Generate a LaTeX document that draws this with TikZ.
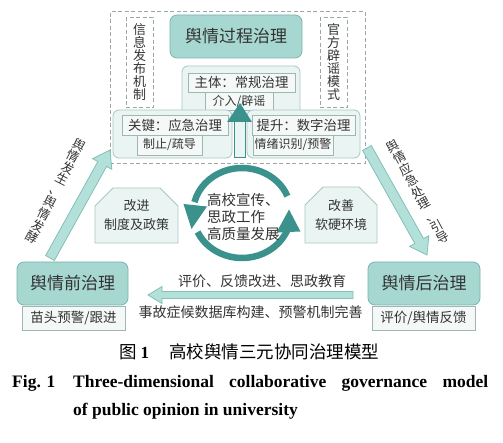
\documentclass[tikz,border=0pt]{standalone}
\usepackage{fontspec}
\setmainfont{Liberation Serif}
\newfontfamily\cjk{Noto Sans CJK SC}
\usetikzlibrary{shapes.misc}
\definecolor{tealF}{HTML}{A6D8D1}
\definecolor{tealD}{HTML}{7AB5AD}
\definecolor{grpF}{HTML}{EAF5F3}
\definecolor{grpD}{HTML}{A9C6C2}
\definecolor{hdrF}{HTML}{F4F9F8}
\definecolor{hdrD}{HTML}{9FB6B3}
\definecolor{darkT}{HTML}{3B928C}
\definecolor{arrF}{HTML}{B4E0DA}
\definecolor{arrD}{HTML}{82C0B8}
\definecolor{dashC}{HTML}{9AA8A7}
\definecolor{txt}{HTML}{333333}
\begin{document}
\begin{tikzpicture}[x=1pt,y=-1pt,
  every node/.style={text=txt},
  tealbox/.style={draw=tealD, fill=tealF, rounded corners=7pt, line width=0.8pt, inner sep=0pt,
    font=\cjk\fontsize{17}{19}\selectfont},
  groupbox/.style={draw=grpD, fill=grpF, rounded corners=6pt, line width=0.8pt, inner sep=0pt},
  hdrbox/.style={draw=hdrD, fill=hdrF, line width=0.7pt, inner sep=0pt,
    font=\cjk\fontsize{13.4}{15}\selectfont},
  subbox/.style={draw=hdrD, fill=hdrF, line width=0.7pt, inner sep=0pt,
    font=\cjk\fontsize{12}{14}\selectfont},
  lowbox/.style={draw=hdrD, fill=hdrF, line width=0.7pt, inner sep=0pt,
    font=\cjk\fontsize{13.5}{15}\selectfont},
  chambox/.style={chamfered rectangle, chamfered rectangle xsep=9pt, chamfered rectangle ysep=9pt,
    chamfered rectangle corners={north west,north east}, draw=grpD, fill=grpF, line width=0.8pt,
    inner sep=0pt, align=center, font=\cjk\fontsize{13}{19}\selectfont},
  vtxt/.style={align=center, inner sep=0pt, font=\cjk\fontsize{12.5}{13}\selectfont},
  dashbox/.style={draw=dashC, dashed, line width=1pt, dash pattern=on 4pt off 2.5pt},
  blockarr/.style={draw=arrD, fill=arrF, line width=0.8pt, line join=miter},
  midtxt/.style={inner sep=0pt, font=\cjk\fontsize{14}{14}\selectfont},
  ring/.style={draw=darkT, line width=6.5pt}
]
\useasboundingbox[fill=white] (0,0) rectangle (503,443);

% outer dashed frame
\node[dashbox, minimum width=255, minimum height=152, inner sep=0pt] (frame) at (237.5,88) {};
\node[dashbox, minimum width=27, minimum height=90, inner sep=0pt] (infobox) at (139.5,63) {};
\node[dashbox, minimum width=27, minimum height=90, inner sep=0pt] (rumorbox) at (333.5,63) {};
\node[vtxt, font=\cjk\fontsize{13}{13}\selectfont] (infotxt) at (139.5,62) {信\\息\\发\\布\\机\\制};
\node[vtxt, font=\cjk\fontsize{13}{13}\selectfont] (rumortxt) at (333.5,62) {官\\方\\辟\\谣\\模\\式};

% top process box
\node[tealbox, minimum width=132, minimum height=43] (proc) at (236,36.5) {舆情过程治理};

% main group
\node[groupbox, minimum width=118, minimum height=54] (maing) at (241,93) {};
\node[hdrbox, minimum width=107, minimum height=19] (mainh) at (241.5,82.5) {主体：常规治理};
\node[subbox, minimum width=68, minimum height=18] (mains) at (239,101) {介入/辟谣};

% left group
\node[groupbox, minimum width=119, minimum height=48] (leftg) at (172.5,134) {};
\node[hdrbox, minimum width=106, minimum height=20] (lefth) at (175,125) {关键：应急治理};
\node[subbox, minimum width=65, minimum height=20] (lefts) at (169.5,145) {制止/疏导};

% right group
\node[groupbox, minimum width=113, minimum height=48] (rightg) at (303.5,134) {};
\node[hdrbox, minimum width=103, minimum height=20] (righth) at (303.5,125) {提升：数字治理};
\node[subbox, minimum width=80, minimum height=20] (rights) at (293,145) {情绪识别/预警};

% central up arrow
\node[draw=darkT, fill=grpF, line width=0.8pt, minimum width=11, minimum height=36, inner sep=0pt] (upshaft) at (239.5,139.5) {};
\fill[darkT] (227,122) -- (252,122) -- (240,103) -- cycle;

% left and right stage boxes
\node[tealbox, minimum width=111, minimum height=43] (pre) at (72.5,283.5) {舆情前治理};
\node[lowbox, minimum width=103, minimum height=24] (pres) at (73.5,318) {苗头预警/跟进};
\node[tealbox, minimum width=112, minimum height=43] (post) at (424,283.5) {舆情后治理};
\node[lowbox, minimum width=103, minimum height=24] (posts) at (423.5,318) {评价/舆情反馈};

% middle chamfered boxes
\node[chambox, minimum width=73, minimum height=55] (impL) at (136.5,215.5) {改进\\制度及政策};
\node[chambox, minimum width=72, minimum height=56] (impR) at (341,215) {改善\\软硬环境};

% block arrows
\begin{scope}[shift={(80,204)}, rotate=60.95]
  \draw[blockarr] (-61.75,-5) -- (45.75,-5) -- (45.75,-11) -- (61.75,0) -- (45.75,11) -- (45.75,5) -- (-61.75,5) -- cycle;
\end{scope}
\begin{scope}[shift={(397,201.5)}, rotate=-60.7]
  \draw[blockarr] (-61.35,-5) -- (45.35,-5) -- (45.35,-11) -- (61.35,0) -- (45.35,11) -- (45.35,5) -- (-61.35,5) -- cycle;
\end{scope}
\begin{scope}[shift={(250.5,295)}, rotate=180]
  \draw[blockarr] (-102.5,-3.5) -- (88.5,-3.5) -- (88.5,-8.5) -- (102.5,0) -- (88.5,8.5) -- (88.5,3.5) -- (-102.5,3.5) -- cycle;
\end{scope}

% arrow labels
\node[vtxt, rotate=-27] (lab1) at (56,191) {舆\\情\\发\\生\\、\\舆\\情\\发\\酵};
\node[vtxt, rotate=28.5] (lab2) at (418,192) {舆\\情\\应\\急\\处\\理\\、\\引\\导};
\node[midtxt] (lab3) at (262,281) {评价、反馈改进、思政教育};
\node[midtxt] (lab4) at (250.5,312) {事故症候数据库构建、预警机制完善};

% circular arrows
\coordinate (cc) at (242,213);
\draw[ring] (cc) ++(-22:49 and 45) arc[start angle=-22, end angle=-166, x radius=49, y radius=45];
\fill[darkT] (183.5,204) -- (207,206.5) -- (191.5,229) -- cycle;
\draw[ring] (cc) ++(-205:49 and 45) arc[start angle=-205, end angle=-342, x radius=49, y radius=45];
\fill[darkT] (276.5,232.5) -- (300.5,231.5) -- (289,209.5) -- cycle;
\node[midtxt, align=left, anchor=west, font=\cjk\fontsize{14.5}{17}\selectfont] (core) at (207,217) {高校宣传、\\思政工作\\高质量发展};

% captions
\node[inner sep=0pt, text=black] (capzh) at (249,352) {{\cjk\fontsize{17.5}{20}\selectfont 图}\hspace{4pt}{\fontsize{17}{20}\selectfont\bfseries 1}\hspace{20pt}{\cjk\fontsize{17.5}{20}\selectfont 高校舆情三元协同治理模型}};
\node[inner sep=0pt, anchor=base west, text=black, font=\fontsize{17.5}{20}\selectfont\bfseries] (figno) at (12,387) {Fig. 1};
\node[inner sep=0pt, anchor=base west, text=black, font=\fontsize{17.5}{20}\selectfont\bfseries] (capen1) at (73,387) {\makebox[415pt][s]{Three-dimensional collaborative governance model}};
\node[inner sep=0pt, anchor=base west, text=black, font=\fontsize{17.5}{20}\selectfont\bfseries] (capen2) at (73,415) {of public opinion in university};
\end{tikzpicture}
\end{document}
